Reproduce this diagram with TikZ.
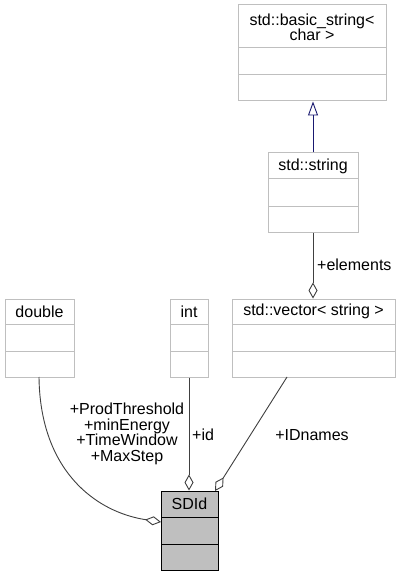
\documentclass[tikz,border=0pt]{standalone}
\usepackage{fontspec}
\setmainfont{Liberation Sans}
\usetikzlibrary{arrows.meta}
\definecolor{boxgray}{HTML}{BFBFBF}
\definecolor{edgegray}{HTML}{404040}
\definecolor{navyedge}{HTML}{191970}
\begin{document}
\begin{tikzpicture}[x=1pt,y=-1pt,
  cls/.style={draw=boxgray,line width=1pt,fill=white,inner sep=0pt,rectangle},
  main/.style={draw=black,line width=1pt,fill=boxgray,inner sep=0pt,rectangle},
  lbl/.style={inner sep=0pt,font=\fontsize{16}{15.5}\selectfont,align=center},
  agg/.style={draw=edgegray,line width=0.9pt,-{Diamond[open,length=16pt,width=9pt,line width=0.9pt]}},
  inh/.style={draw=navyedge,line width=0.9pt,-{Triangle[open,length=14pt,width=10pt,line width=0.9pt]}}]
\useasboundingbox (0,0) rectangle (400,577);
\fill[white] (0,0) rectangle (400,577);
% std::basic_string<char>
\node[cls,minimum width=148,minimum height=96] (bstr) at (312,53) {};
\draw[boxgray,line width=1pt] (238,48) -- (386,48) (238,75) -- (386,75);
\node[lbl] (bstrt) at (312,27.5) {std::basic\_string<\\char >};
% std::string
\node[cls,minimum width=90,minimum height=79] (str) at (313,192.5) {};
\draw[boxgray,line width=1pt] (268,179) -- (358,179) (268,206) -- (358,206);
\node[lbl] (strt) at (313,166) {std::string};
% double
\node[cls,minimum width=69,minimum height=78] (dbl) at (39.5,338) {};
\draw[boxgray,line width=1pt] (5,324) -- (74,324) (5,351) -- (74,351);
\node[lbl] (dblt) at (39.5,311.5) {double};
% int
\node[cls,minimum width=38,minimum height=78] (int) at (189,338) {};
\draw[boxgray,line width=1pt] (170,324) -- (208,324) (170,351) -- (208,351);
\node[lbl] (intt) at (189,311.5) {int};
% std::vector<string>
\node[cls,minimum width=163,minimum height=78] (vec) at (313.5,338) {};
\draw[boxgray,line width=1pt] (232,324) -- (395,324) (232,351) -- (395,351);
\node[lbl] (vect) at (313.5,311.5) {std::vector< string >};
% SDId
\node[main,minimum width=57,minimum height=79] (sdid) at (189.5,530.5) {};
\draw[black,line width=1pt] (161,517) -- (218,517) (161,544) -- (218,544);
\node[lbl] (sdidt) at (189.5,504) {SDId};
% edges
\draw[inh] (str.north) -- (str.north |- bstr.south);
\draw[agg] (str.south) -- (str.south |- vec.north);
\draw[agg] (int.south) -- (int.south |- sdid.north);
\coordinate (v1) at (287,377);
\coordinate (v2) at (215,491);
\draw[agg] (v1) -- (v2);
\coordinate (d1) at (39,377);
\coordinate (d2) at (161,522);
\draw[agg] (d1) .. controls (40,470) and (95,512) .. (d2);
% edge labels
\node[lbl,anchor=west] (lel) at (317,265) {+elements};
\node[lbl] (lmulti) at (127,434) {+ProdThreshold\\+minEnergy\\+TimeWindow\\+MaxStep};
\node[lbl,anchor=west] (lid) at (192,435) {+id};
\node[lbl] (lidn) at (312,435) {+IDnames};
\end{tikzpicture}
\end{document}
